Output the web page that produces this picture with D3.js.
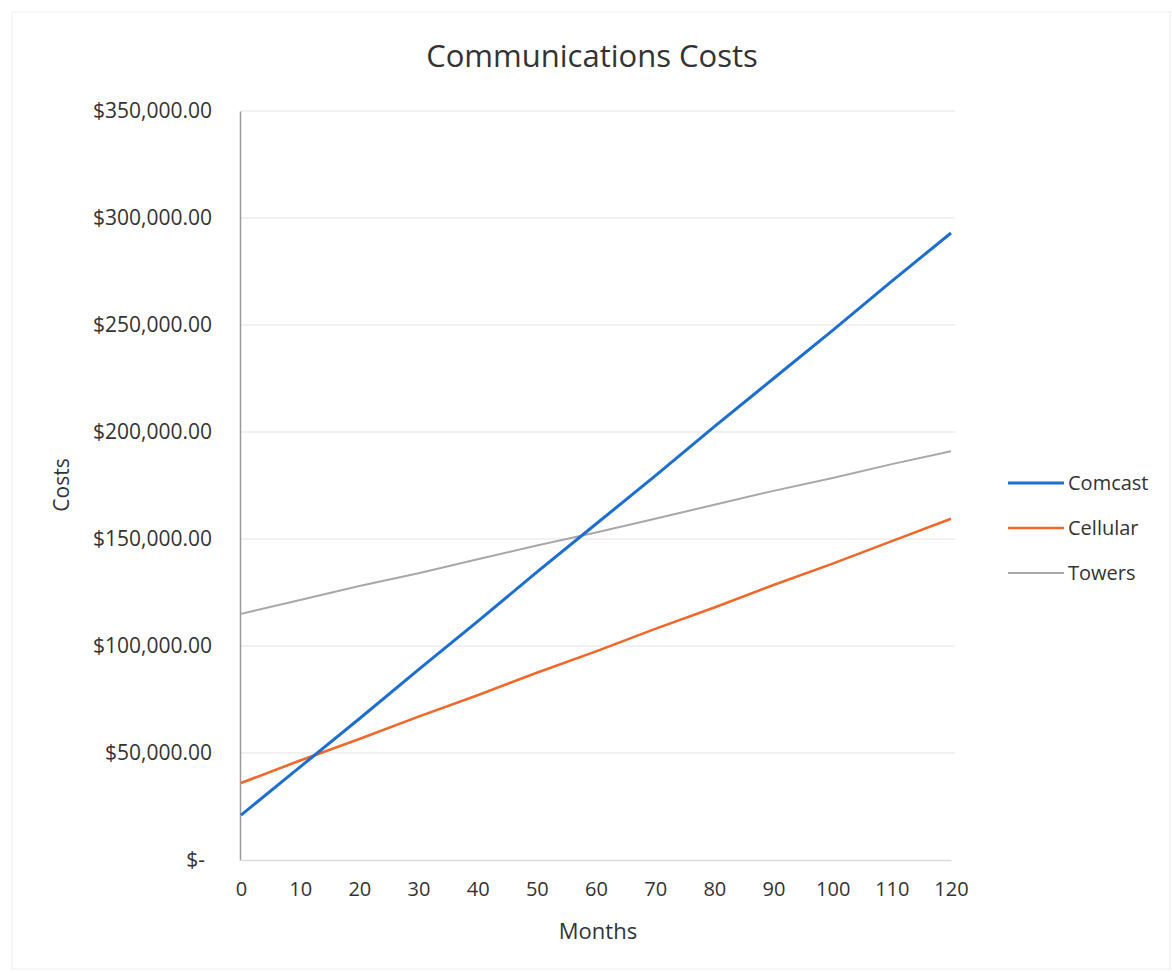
<!DOCTYPE html>
<html>
<head>
<meta charset="utf-8">
<script src="https://cdn.jsdelivr.net/npm/d3@7"></script>
<style>
  body { margin: 0; background: #fff; }
  text { font-family: "Open Sans", "Noto Sans", sans-serif; fill: #333; }
</style>
</head>
<body>
<div id="chart"></div>
<script>
// Data
const months = [0, 10, 20, 30, 40, 50, 60, 70, 80, 90, 100, 110, 120];
const comcast = [21000, 43500, 66000, 89000, 111500, 134500, 157000, 179500, 202500, 225000, 247500, 270500, 293000];
const cellular = [36000, 46500, 56500, 67000, 77000, 87500, 97500, 108000, 118000, 128500, 138500, 149000, 159500];
const towers = [115000, 121500, 128000, 134000, 140500, 147000, 153000, 159500, 166000, 172500, 178500, 185000, 191000];
const seriesNames = ["Comcast", "Cellular", "Towers"];
const yTicks = [0, 50000, 100000, 150000, 200000, 250000, 300000, 350000];

let width = 1172;
let height = 973;
let margin = { top: 111, bottom: 113, left: 241, right: 221 };

let svg = d3.select('#chart')
            .append('svg')
            .attr('width', width)
            .attr('height', height)

// faint outer frame of the chart area
svg.append('rect')
    .attr('x', 12).attr('y', 12)
    .attr('width', width - 14).attr('height', height - 16)
    .attr('fill', 'none')
    .attr('stroke', '#ededed')

let xScale = d3.scaleLinear()
                .domain([0, 120])
                .range([margin.left, width - margin.right])
let yScale = d3.scaleLinear()
                .domain([0, 350000])
                .range([height - margin.bottom, margin.top])

const color = d3.scaleOrdinal()
    .domain(seriesNames)
    .range(["#1c6fd1", "#f2682a", "#a8a8a8"]);
const strokeW = { Comcast: 3, Cellular: 2.6, Towers: 2 };

// gridlines
svg.append('g')
    .selectAll('line')
    .data(yTicks.slice(1))
    .enter()
    .append('line')
    .attr('x1', margin.left)
    .attr('x2', width - margin.right + 4)
    .attr('y1', d => yScale(d))
    .attr('y2', d => yScale(d))
    .attr('stroke', '#ececec')
    .attr('stroke-width', 1.3)

// y axis
let yAxis = svg.append('g')
    .attr('transform', `translate(${margin.left - 1}, 0)`)
    .call(d3.axisLeft(yScale)
        .tickValues(yTicks)
        .tickSize(0)
        .tickPadding(28)
        .tickFormat(d => d === 0 ? "$-" : "$" + d3.format(",.2f")(d)))
yAxis.select('.domain').attr('stroke', '#9a9a9a').attr('stroke-width', 1.5)
yAxis.selectAll('text')
    .style('font-size', '21px')
    .style('fill', '#333')
    .attr('dx', d => d === 0 ? -7 : 0)

// x axis
let xAxis = svg.append('g')
    .attr('transform', `translate(0, ${height - margin.bottom})`)
    .call(d3.axisBottom(xScale)
        .tickValues(months)
        .tickSize(0)
        .tickPadding(22))
xAxis.select('.domain').attr('stroke', '#dcdcdc').attr('stroke-width', 1.5)
xAxis.selectAll('text')
    .style('font-size', '20px')
    .style('fill', '#333')

// lines
const seriesData = [comcast, cellular, towers];
let line = d3.line()
    .x((d, i) => xScale(months[i]))
    .y(d => yScale(d));

// draw Towers first, then Cellular, then Comcast on top
[2, 1, 0].forEach(k => {
    svg.append('path')
        .datum(seriesData[k])
        .attr('fill', 'none')
        .attr('stroke', color(seriesNames[k]))
        .attr('stroke-width', strokeW[seriesNames[k]])
        .attr('d', line);
});

// title
svg.append('text')
    .attr('x', 592)
    .attr('y', 67)
    .attr('text-anchor', 'middle')
    .style('font-size', '31px')
    .text('Communications Costs')

// axis titles
svg.append('text')
    .attr('x', 598)
    .attr('y', 939)
    .attr('text-anchor', 'middle')
    .style('font-size', '22px')
    .text('Months')
svg.append('text')
    .attr('transform', 'translate(69, 485) rotate(-90)')
    .attr('text-anchor', 'middle')
    .style('font-size', '21px')
    .text('Costs')

// legend
const legend = svg.append('g')
    .attr('transform', 'translate(1008, 483)');
seriesNames.forEach((name, i) => {
    legend.append('line')
        .attr('x1', 0).attr('x2', 56)
        .attr('y1', i * 45).attr('y2', i * 45)
        .attr('stroke', color(name))
        .attr('stroke-width', strokeW[name]);
    legend.append('text')
        .attr('x', 60)
        .attr('y', i * 45 + 7)
        .style('font-size', '20px')
        .text(name);
});
</script>
</body>
</html>
